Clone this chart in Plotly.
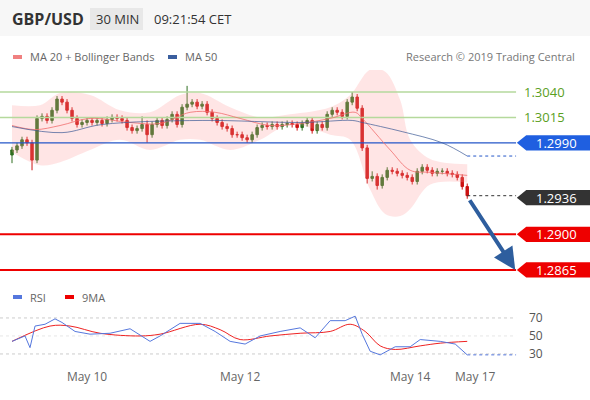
import plotly.graph_objects as go

# %% data
closes = [1.2983,1.2987,1.2993,1.2990,1.2973,1.3014,1.3016,1.3012,1.3022,1.3033,
          1.3030,1.3022,1.3014,1.3008,1.3010,1.3012,1.3010,1.3012,1.3009,1.3013,
          1.3015,1.3014,1.3012,1.3005,1.3002,1.3004,1.3008,1.2998,1.3008,1.3012,
          1.3007,1.3013,1.3018,1.3008,1.3025,1.3028,1.3030,1.3026,1.3028,1.3020,
          1.3014,1.3010,1.3006,1.3004,1.2998,1.2998,1.2995,1.2993,1.2998,1.3005,
          1.3007,1.3006,1.3008,1.3006,1.3008,1.3009,1.3008,1.3005,1.3009,1.3012,
          1.3002,1.3008,1.3005,1.3018,1.3022,1.3020,1.3016,1.3030,1.3035,1.3024,
          1.2985,1.2955,1.2957,1.2948,1.2956,1.2963,1.2962,1.2960,1.2958,1.2956,
          1.2952,1.2962,1.2966,1.2963,1.2960,1.2962,1.2962,1.2960,1.2959,1.2956,
          1.2947,1.2938]
highs = [1.2986,1.2990,1.2996,1.2996,1.2993,1.3017,1.3019,1.3019,1.3025,1.3036,
         1.3036,1.3033,1.3025,1.3017,1.3013,1.3015,1.3015,1.3015,1.3015,1.3016,
         1.3018,1.3018,1.3017,1.3015,1.3008,1.3007,1.3016,1.3012,1.3011,1.3015,
         1.3015,1.3016,1.3021,1.3021,1.3028,1.3046,1.3033,1.3033,1.3031,1.3031,
         1.3023,1.3017,1.3013,1.3009,1.3007,1.3001,1.3001,1.2998,1.3001,1.3008,
         1.3010,1.3010,1.3011,1.3011,1.3011,1.3012,1.3012,1.3011,1.3012,1.3015,
         1.3015,1.3011,1.3011,1.3021,1.3025,1.3025,1.3023,1.3033,1.3040,1.3038,
         1.3027,1.2988,1.2962,1.2960,1.2959,1.2966,1.2966,1.2965,1.2963,1.2961,
         1.2959,1.2965,1.2969,1.2969,1.2966,1.2965,1.2965,1.2965,1.2963,1.2962,
         1.2959,1.2950]
lows = [1.2970,1.2980,1.2984,1.2987,1.2963,1.2970,1.3011,1.3009,1.3009,1.3019,
        1.3027,1.3019,1.3011,1.3005,1.3005,1.3007,1.3007,1.3007,1.3006,1.3006,
        1.3010,1.3011,1.3009,1.3002,1.2999,1.2999,1.3001,1.2990,1.2995,1.3005,
        1.3004,1.3004,1.3010,1.3005,1.3005,1.3022,1.3025,1.3023,1.3023,1.3017,
        1.3011,1.3007,1.3003,1.3001,1.2995,1.2995,1.2992,1.2990,1.2990,1.2995,
        1.3002,1.3003,1.3003,1.3003,1.3003,1.3005,1.3005,1.3002,1.3002,1.3006,
        1.2999,1.2999,1.3002,1.3002,1.3015,1.3017,1.3013,1.3013,1.3027,1.3021,
        1.2982,1.2950,1.2952,1.2944,1.2945,1.2953,1.2959,1.2957,1.2955,1.2953,
        1.2949,1.2949,1.2959,1.2960,1.2957,1.2957,1.2959,1.2957,1.2956,1.2953,
        1.2944,1.2935]
opens = [1.2978] + closes[:-1]
bars = list(range(len(closes)))

ma50_x = [0, 10, 18, 38, 58, 68, 70, 78, 86, 91]
ma50_y = [1.3006, 1.3000, 1.3008, 1.3012, 1.3010, 1.3012, 1.3010, 1.3001, 1.2990, 1.2977]

ma20_x = [0, 4.6, 9.6, 15.6, 23.6, 29.6, 35.6, 40.6, 45.6, 51.6, 57.6, 63.6, 68.6, 70, 75.6, 79.6, 83.6, 91]
ma20_y = [1.3007, 1.3003, 1.3007, 1.3014, 1.3010, 1.3009, 1.3020, 1.3020, 1.3014, 1.3007,
          1.3009, 1.3014, 1.3020, 1.3014, 1.2983, 1.2963, 1.2961, 1.2958]

band_x = [0, 5.6, 9.6, 15.6, 21.6, 27.6, 33.6, 37.6, 43.6, 49.6, 55.6, 63.6, 67.6, 71.6, 74.6, 77.6, 79.6, 83.6, 91]
band_hi = [1.3027,1.3027,1.3039,1.3037,1.3022,1.3020,1.3037,1.3039,1.3025,1.3015,
           1.3018,1.3025,1.3037,1.3062,1.3060,1.3032,1.2993,1.2974,1.2969]
band_lo = [1.2981,1.2968,1.2971,1.2983,1.2993,1.2983,1.2993,1.2993,1.2983,1.2993,
           1.3008,1.2998,1.2993,1.2944,1.2920,1.2918,1.2925,1.2949,1.2951]

rsi_x = [0, 2.6, 3.6, 4.6, 6.6, 8.6, 10, 12.6, 15.6, 19.6, 23.6, 27.6, 29.6, 33.6, 37.6, 40.6,
         43.6, 46.6, 49.6, 53.6, 57.6, 60.6, 63.6, 66.6, 68.6, 70, 71.6, 73.6, 76.6, 79.6, 81.6,
         85.6, 88.6, 91]
rsi_y = [44, 50, 37, 61, 63, 69, 65, 55, 52, 53, 58, 44, 50, 64, 64, 55,
         44, 41, 50, 55, 59, 48, 67, 67, 72, 52, 33, 29, 38, 38, 46,
         44, 41, 29]
ma9_x = [0, 7.6, 11.6, 17.6, 25.6, 29.6, 37.6, 41.6, 45.6, 51.6, 57.6, 63.6, 67.6, 70.6, 73.6, 76.6, 81.6, 85.6, 91]
ma9_y = [44, 61, 61, 53, 50, 52, 63, 57, 46, 50, 53, 55, 63, 55, 39, 35, 39, 42, 44]

date_ticks = [15, 45.6, 79.6, 92.6]
date_labels = ["May 10", "May 12", "May 14", "May 17"]
levels = [1.3040, 1.3015, 1.2990, 1.2936, 1.2900, 1.2865]
target = 1.2865

# %% figure
GREEN_LVL = "#b5d99c"
fig = go.Figure()

# Bollinger band fill
fig.add_trace(go.Scatter(x=band_x, y=band_hi, mode="lines", line=dict(width=0, shape="spline"),
                         hoverinfo="skip", showlegend=False))
fig.add_trace(go.Scatter(x=band_x, y=band_lo, mode="lines", line=dict(width=0, shape="spline"),
                         fill="tonexty", fillcolor="rgba(255,150,150,0.25)",
                         hoverinfo="skip", showlegend=False))

# level lines
for lv, col, w in [(1.3040, GREEN_LVL, 1.5), (1.3015, GREEN_LVL, 1.5), (1.2990, "#2456c8", 1.2),
                   (1.2900, "#ee0000", 2), (1.2865, "#ee0000", 2)]:
    fig.add_trace(go.Scatter(x=[-2.4, 100.8], y=[lv, lv], mode="lines", line=dict(color=col, width=w),
                             hoverinfo="skip", showlegend=False))

fig.add_trace(go.Scatter(x=ma20_x, y=ma20_y, mode="lines",
                         line=dict(color="rgba(240,110,110,0.8)", width=1, shape="spline"), showlegend=False))
fig.add_trace(go.Scatter(x=ma50_x, y=ma50_y, mode="lines",
                         line=dict(color="rgba(60,90,150,0.7)", width=1, shape="spline"), showlegend=False))

fig.add_trace(go.Candlestick(x=bars, open=opens, high=highs, low=lows, close=closes,
                             increasing=dict(line=dict(color="#2f6f1f", width=1), fillcolor="#2f6f1f"),
                             decreasing=dict(line=dict(color="#cc1111", width=1), fillcolor="#cc1111"),
                             whiskerwidth=0, showlegend=False))

# dotted extensions
fig.add_trace(go.Scatter(x=[91, 100.8], y=[ma50_y[-1], ma50_y[-1]], mode="lines",
                         line=dict(color="#2456c8", width=1, dash="dot"), showlegend=False))
fig.add_trace(go.Scatter(x=[91, 100.8], y=[closes[-1], closes[-1]], mode="lines",
                         line=dict(color="#333333", width=1, dash="dot"), showlegend=False))

# RSI panel
for v in [70, 50, 30]:
    fig.add_trace(go.Scatter(x=[-2.4, 100.8], y=[v, v], mode="lines", xaxis="x", yaxis="y2",
                             line=dict(color="#cccccc" if v != 50 else "#e6e6e6", width=1, dash="dot"),
                             showlegend=False))
fig.add_trace(go.Scatter(x=ma9_x, y=ma9_y, mode="lines", yaxis="y2",
                         line=dict(color="#ee2222", width=1, shape="spline"), showlegend=False))
fig.add_trace(go.Scatter(x=rsi_x, y=rsi_y, mode="lines", yaxis="y2",
                         line=dict(color="#5577dd", width=1), showlegend=False))
fig.add_trace(go.Scatter(x=[91, 100.8], y=[rsi_y[-1], rsi_y[-1]], mode="lines", yaxis="y2",
                         line=dict(color="#5577dd", width=1, dash="dot"), showlegend=False))

# right-side price tags
shapes = []
annos = []
tag_cols = {1.2990: "#1f5fe0", 1.2936: "#333333", 1.2900: "#ee0000", 1.2865: "#ee0000"}
for lv in levels:
    txt = f"{lv:.4f}"
    if lv in tag_cols:
        h = 0.00075
        shapes.append(dict(type="path", xref="paper", yref="y", fillcolor=tag_cols[lv], line=dict(width=0),
                           path=f"M 0.876 {lv} L 0.892 {lv + h} L 1.0 {lv + h} L 1.0 {lv - h} L 0.892 {lv - h} Z"))
        annos.append(dict(xref="paper", yref="y", x=0.905, y=lv, text=txt, showarrow=False, xanchor="left",
                          font=dict(color="white", size=13)))
    else:
        annos.append(dict(xref="paper", yref="y", x=0.885, y=lv, text=txt, showarrow=False, xanchor="left",
                          font=dict(color="#5aa01e", size=13)))

# forecast arrow
annos.append(dict(x=100.6, y=target, ax=91.3, ay=closes[-1] - 0.0003, xref="x", yref="y", axref="x", ayref="y",
                  showarrow=True, arrowhead=2, arrowsize=1.1, arrowwidth=4, arrowcolor="#2e5e9e", text=""))

# RSI right labels
for v in [70, 50, 30]:
    annos.append(dict(xref="paper", yref="y2", x=0.893, y=v, text=str(v), showarrow=False, xanchor="left",
                      font=dict(color="#555555", size=12)))

# header and legends
shapes.append(dict(type="rect", xref="paper", yref="paper", x0=0, x1=1, y0=0.91, y1=1,
                   fillcolor="#f7f7f7", line=dict(width=0), layer="below"))
shapes.append(dict(type="rect", xref="paper", yref="paper", x0=90 / 590, x1=143 / 590, y0=1 - 30 / 400, y1=1 - 8 / 400,
                   fillcolor="#e8e8e8", line=dict(width=0)))
for x0, col, yy in [(13, "#f08080", 57), (168, "#3a5e9e", 57), (13, "#5577dd", 297), (65, "#ee0000", 297)]:
    shapes.append(dict(type="rect", xref="paper", yref="paper", x0=x0 / 590, x1=(x0 + 9) / 590,
                       y0=1 - (yy + 2) / 400, y1=1 - (yy - 2) / 400, fillcolor=col, line=dict(width=0)))

def txt(x, y, s, size=11, color="#666666", anchor="left"):
    annos.append(dict(xref="paper", yref="paper", x=x / 590, y=1 - y / 400, text=s, showarrow=False,
                      xanchor=anchor, yanchor="middle", font=dict(size=size, color=color)))

txt(10, 19, "<b>GBP/USD</b>", 16, "#333333")
txt(94, 19, "30 MIN", 13, "#333333")
txt(152, 19, "09:21:54 CET", 13, "#333333")
txt(28, 57, "MA 20 + Bollinger Bands")
txt(183, 57, "MA 50")
txt(577, 57, "Research © 2019 Trading Central", 11, "#777777", "right")
txt(28, 297, "RSI")
txt(80, 297, "9MA")

fig.update_layout(
    width=590, height=400,
    margin=dict(l=0, r=0, t=0, b=0),
    plot_bgcolor="white", paper_bgcolor="white",
    font=dict(family="Open Sans", color="#666666"),
    showlegend=False,
    xaxis=dict(domain=[0, 0.875], range=[-2.4, 100.8], anchor="y2", rangeslider=dict(visible=False),
               showgrid=False, zeroline=False, showline=False, tickvals=date_ticks, ticktext=date_labels,
               tickfont=dict(size=12, color="#666666"), ticks=""),
    yaxis=dict(domain=[0.2875, 0.825], range=[1.28502, 1.30616], showgrid=False, zeroline=False,
               showticklabels=False),
    yaxis2=dict(domain=[0.08, 0.2375], range=[14.4, 84.4], showgrid=False, zeroline=False,
                showticklabels=False),
    shapes=shapes,
    annotations=annos,
)

fig.write_html("out.html", config={"displayModeBar": False},
               post_script="document.body.style.margin='0';document.body.style.overflow='hidden';")
